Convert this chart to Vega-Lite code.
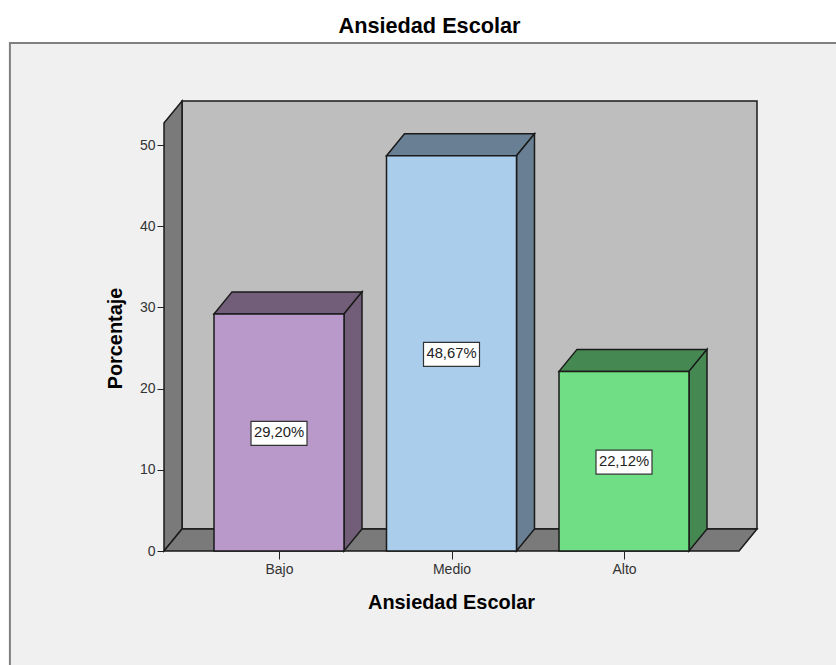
{
"$schema":"https://vega.github.io/schema/vega-lite/v6.json",
"width":593,"height":450,
"autosize":{"type":"none"},
"padding":{"left":164,"top":101,"right":79,"bottom":114},
"background":"#ffffff",
"title":{"text":"Ansiedad Escolar","font":"Liberation Sans","fontSize":21.7,"fontWeight":"bold","color":"#000000","anchor":"middle","dx":-31,"offset":4},
"datasets":{"barras":[
{"categoria":"Bajo","pos":1,"porcentaje":29.2,"etiqueta":"29,20%"},
{"categoria":"Medio","pos":2,"porcentaje":48.67,"etiqueta":"48,67%"},
{"categoria":"Alto","pos":3,"porcentaje":22.12,"etiqueta":"22,12%"}]},
"encoding":{
"x":{"field":"x","type":"quantitative","scale":{"domain":[0.3333,3.771],"nice":false,"zero":false},
"axis":{"title":"Ansiedad Escolar","zindex":1,"values":[1,2,3],"labelExpr":"datum.value==1?'Bajo':datum.value==2?'Medio':'Alto'","grid":false,"domain":false,"tickSize":8,"tickColor":"#222222","tickWidth":1,"labelFont":"Liberation Sans","labelFontSize":14,"labelColor":"#333333","labelPadding":3,"titleFont":"Liberation Sans","titleFontSize":19.9,"titleFontWeight":"bold","titleColor":"#000000","titlePadding":16,"titleX":287}},
"y":{"field":"y","type":"quantitative","scale":{"domain":[0,55.42],"nice":false,"zero":false},
"axis":{"title":"Porcentaje","zindex":1,"values":[0,10,20,30,40,50],"grid":false,"domain":false,"tickSize":7,"tickColor":"#222222","tickWidth":1,"labelFont":"Liberation Sans","labelFontSize":14,"labelColor":"#333333","labelPadding":2,"titleFont":"Liberation Sans","titleFontSize":19.9,"titleFontWeight":"bold","titleColor":"#000000","titlePadding":14,"titleY":237}}
},
"layer":[
{"data":{"values":[{"x":-0.56,"x2":4.4,"y":62.55,"y2":-16}]},
 "mark":{"type":"rect","fill":"#f0f0f0","stroke":"#808080","strokeWidth":2,"clip":false},
 "encoding":{"x2":{"field":"x2"},"y2":{"field":"y2"}}},
{"data":{"values":[{"x":0.4377,"x2":3.771,"y":55.42,"y2":2.71}]},
 "mark":{"type":"rect","fill":"#bebebe","stroke":"#1a1a1a","strokeWidth":1.5,"clip":false},
 "encoding":{"x2":{"field":"x2"},"y2":{"field":"y2"}}},
{"data":{"values":[{"x":0.3333,"y":52.71,"y2":0},{"x":0.4377,"y":55.42,"y2":2.71}]},
 "mark":{"type":"area","fill":"#7a7a7a","stroke":"#1a1a1a","strokeWidth":1.5,"clip":false},
 "encoding":{"y2":{"field":"y2"}}},
{"data":{"values":[{"x":0.3333,"y":0,"y2":0},{"x":0.4377,"y":2.71,"y2":0},{"x":3.667,"y":2.71,"y2":0},{"x":3.771,"y":2.71,"y2":2.71}]},
 "mark":{"type":"area","fill":"#7a7a7a","stroke":"#1a1a1a","strokeWidth":1.5,"clip":false},
 "encoding":{"y2":{"field":"y2"}}},
{"data":{"name":"barras"},
 "transform":[{"calculate":"[0,1,2,3]","as":"t"},{"flatten":["t"]},
  {"calculate":"datum.pos+[-0.3768,-0.2725,0.3768,0.4811][datum.t]","as":"x"},
  {"calculate":"datum.porcentaje+[0,2.71,2.71,2.71][datum.t]","as":"y"},
  {"calculate":"datum.porcentaje+[0,0,0,2.71][datum.t]","as":"y2"}],
 "mark":{"type":"area","stroke":"#1a1a1a","strokeWidth":1.5,"clip":false},
 "encoding":{"y2":{"field":"y2"},"fill":{"field":"categoria","type":"nominal","legend":null,"scale":{"domain":["Bajo","Medio","Alto"],"range":["#725e78","#687f94","#468852"]}}}},
{"data":{"name":"barras"},
 "transform":[{"calculate":"[0,1]","as":"t"},{"flatten":["t"]},
  {"calculate":"datum.pos+0.3768+datum.t*0.1043","as":"x"},
  {"calculate":"datum.porcentaje+datum.t*2.71","as":"y"},
  {"calculate":"datum.t*2.71","as":"y2"}],
 "mark":{"type":"area","stroke":"#1a1a1a","strokeWidth":1.5,"clip":false},
 "encoding":{"y2":{"field":"y2"},"fill":{"field":"categoria","type":"nominal","legend":null,"scale":{"domain":["Bajo","Medio","Alto"],"range":["#725e78","#687f94","#468852"]}}}},
{"data":{"name":"barras"},
 "transform":[{"calculate":"datum.pos-0.3768","as":"x"},{"calculate":"datum.pos+0.3768","as":"x2"},{"calculate":"datum.porcentaje","as":"y"},{"calculate":"0","as":"y2"}],
 "mark":{"type":"rect","stroke":"#1a1a1a","strokeWidth":1.5,"clip":false},
 "encoding":{"x2":{"field":"x2"},"y2":{"field":"y2"},"fill":{"field":"categoria","type":"nominal","legend":null,"scale":{"domain":["Bajo","Medio","Alto"],"range":["#b899c9","#aacdec","#70de85"]}}}},
{"data":{"name":"barras"},
 "transform":[{"calculate":"datum.pos-0.1623","as":"x"},{"calculate":"datum.pos+0.1623","as":"x2"},{"calculate":"datum.porcentaje/2+1.36","as":"y"},{"calculate":"datum.porcentaje/2-1.6","as":"y2"}],
 "mark":{"type":"rect","fill":"#ffffff","stroke":"#333333","strokeWidth":1.2,"clip":false},
 "encoding":{"x2":{"field":"x2"},"y2":{"field":"y2"}}},
{"data":{"name":"barras"},
 "transform":[{"calculate":"datum.pos","as":"x"},{"calculate":"datum.porcentaje/2-0.12","as":"y"}],
 "mark":{"type":"text","font":"Liberation Sans","fontSize":14.8,"color":"#222222","align":"center","baseline":"middle"},
 "encoding":{"text":{"field":"etiqueta"}}}
],
"resolve":{"scale":{"fill":"independent"}},
"config":{"view":{"stroke":null}}
}
